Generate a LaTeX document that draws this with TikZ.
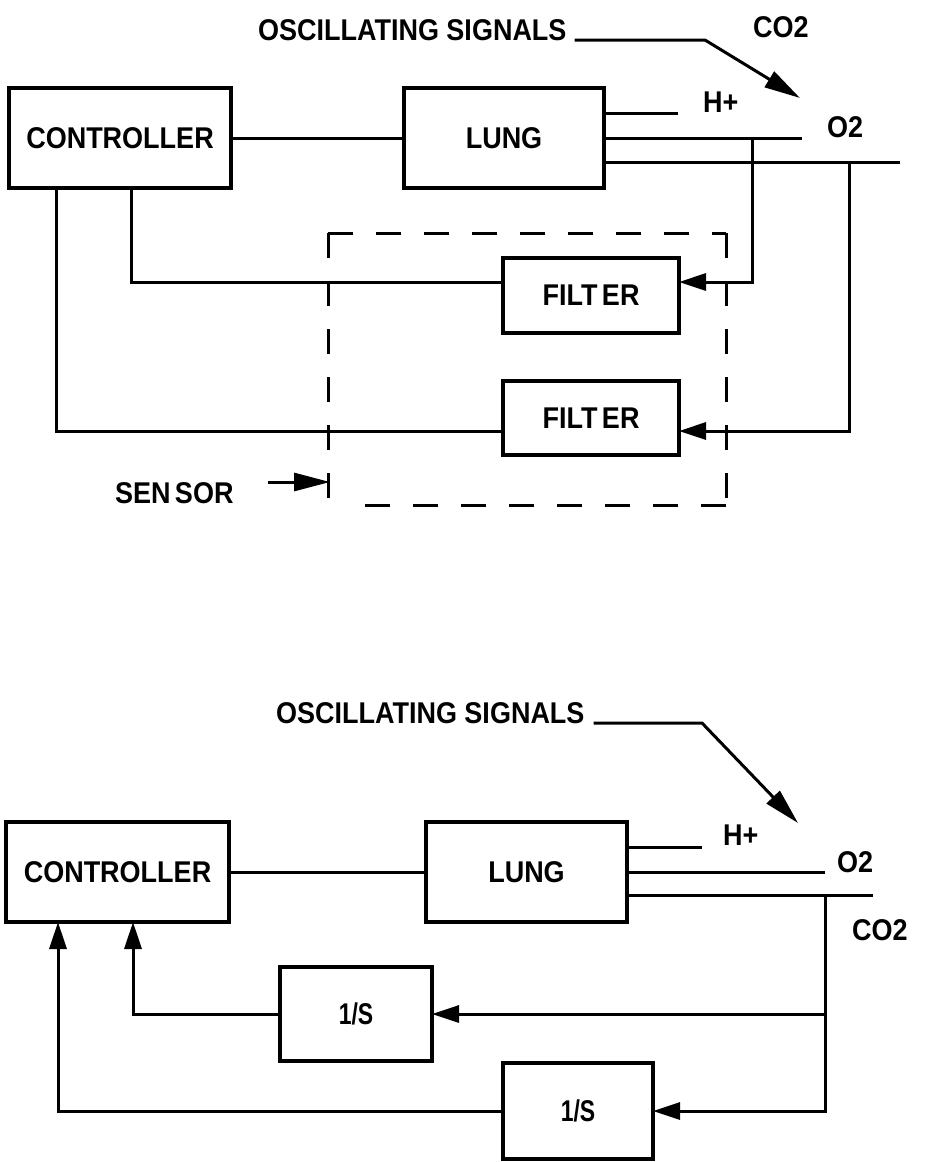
\documentclass[tikz,border=0pt]{standalone}
\usepackage{fontspec}
\setmainfont{Liberation Sans}
\usetikzlibrary{arrows.meta}
\newcommand{\lbl}[1]{\scalebox{0.9}[1]{\bfseries #1}}
\begin{document}
\begin{tikzpicture}[x=1pt,y=-1pt,
  line width=3pt,
  box/.style={draw, line width=3.5pt, rectangle, inner sep=0pt, outer sep=0pt, anchor=north west, font=\fontsize{30}{32}\selectfont},
  txt/.style={inner sep=0pt, outer sep=0pt, font=\fontsize{30}{32}\selectfont},
  arr/.style={-{Triangle[length=27pt,width=17pt]}},
  larr/.style={-{Triangle[length=36pt,width=18pt]}},
  dashbox/.style={line width=3pt, dash pattern=on 25pt off 23pt},
]
\useasboundingbox (0,0) rectangle (934,1162);

% ---------------- top diagram ----------------
\node[box, minimum width=222pt, minimum height=100pt] (c1) at (9,88) {\lbl{CONTROLLER}};
\node[box, minimum width=200pt, minimum height=100pt] (l1) at (404,88) {\lbl{LUNG}};
\node[box, minimum width=176pt, minimum height=75pt] (f1) at (503,258) {\lbl{FILT\kern5pt ER}};
\node[box, minimum width=176pt, minimum height=74pt] (f2) at (503,381) {\lbl{FILT\kern5pt ER}};

\node[txt, anchor=base west] (os1) at (258,40) {\lbl{OSCILLATING SIGNALS}};
\node[txt, anchor=base west] (co2a) at (753,37) {\lbl{CO2}};
\node[txt, anchor=base west] (hpa) at (703,112) {\lbl{H+}};
\node[txt, anchor=base west] (o2a) at (827,137) {\lbl{O2}};
\node[txt, anchor=base west] (sn) at (115,503) {\lbl{SEN\kern5pt SOR}};

\coordinate (hpA) at (678,113);
\coordinate (o2A) at (802,138);
\coordinate (co2A) at (900,162);
\coordinate (j1) at (752,138);
\coordinate (j2) at (849,162);
\coordinate (ob1) at (705,40);
\coordinate (ost1) at (800,98);
\coordinate (sensL) at (330,482);
\coordinate (ss) at ([xshift=34pt]sn.east);
\coordinate (dTL) at (328,233);
\coordinate (dTR) at (726,233);
\coordinate (dBR) at (726,505);
\coordinate (dBL) at (328,505);
\coordinate (dBE) at (354,505);

\draw (c1.east) -- (l1.west);
\draw (l1.east |- hpA) -- (hpA);
\draw (l1.east) -- (o2A);
\draw (l1.east |- co2A) -- (co2A);
\draw[arr] (j1) |- ([yshift=13.5pt]f1.east);
\draw[arr] (j2) |- ([yshift=-13pt]f2.east);
\draw ([yshift=13.5pt]f1.west) -| ([xshift=122pt]c1.south west);
\draw ([yshift=-13pt]f2.west) -| ([xshift=47pt]c1.south west);
\draw[larr] ([xshift=8pt]os1.base east) -- (ob1) -- (ost1);
\draw[larr] (ss |- sensL) -- (sensL);
\draw[dashbox] (dTL) -- (dBL);
\draw[dashbox] (dTL) -- (dTR);
\draw[dashbox] (dTR) -- (dBR);
\draw[dashbox] (dBR) -- (dBE);

% ---------------- bottom diagram ----------------
\node[box, minimum width=223pt, minimum height=100pt] (c2) at (6,822) {\lbl{CONTROLLER}};
\node[box, minimum width=201pt, minimum height=100pt] (l2) at (426,822) {\lbl{LUNG}};
\node[box, minimum width=152pt, minimum height=94pt] (s1) at (280,967) {\scalebox{0.85}[1]{\lbl{1/S}}};
\node[box, minimum width=150pt, minimum height=96pt] (s2) at (503,1063) {\scalebox{0.85}[1]{\lbl{1/S}}};

\node[txt, anchor=base west] (os2) at (276,723) {\lbl{OSCILLATING SIGNALS}};
\node[txt, anchor=base west] (hpb) at (723,845) {\lbl{H+}};
\node[txt, anchor=base west] (o2b) at (837,872) {\lbl{O2}};
\node[txt, anchor=base west] (co2b) at (852,940) {\lbl{CO2}};

\coordinate (hpB) at (702,847);
\coordinate (o2B) at (825,872);
\coordinate (co2B) at (873,895);
\coordinate (jB) at (825,895);
\coordinate (ob2) at (702,723);
\coordinate (ost2) at (798,823);

\draw (c2.east) -- (l2.west);
\draw (l2.east |- hpB) -- (hpB);
\draw (l2.east) -- (o2B);
\draw (l2.east |- co2B) -- (co2B);
\draw[arr] (jB) |- (s2.east);
\draw[arr] (jB |- s1.east) -- (s1.east);
\draw[arr] (s1.west) -| ([xshift=127pt]c2.south west);
\draw[arr] (s2.west) -| ([xshift=52pt]c2.south west);
\draw[larr] ([xshift=9pt]os2.base east) -- (ob2) -- (ost2);
\end{tikzpicture}
\end{document}
